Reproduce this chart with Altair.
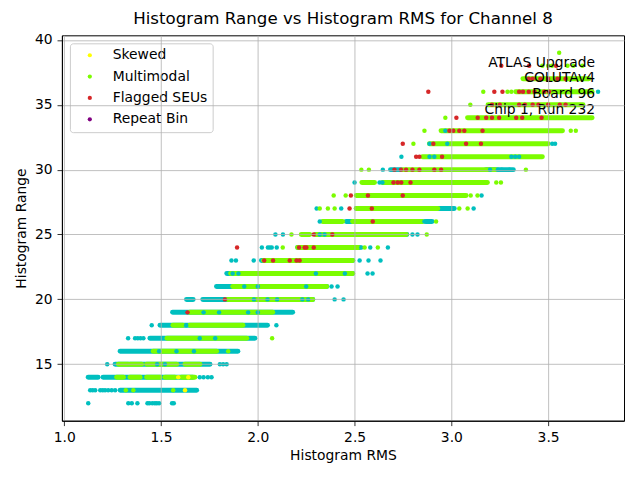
import altair as alt
import pandas as pd

# ---------------- data ----------------
CATEGORIES = ["Normal", "Skewed", "Multimodal", "Flagged SEUs", "Repeat Bin"]
CAT_COLORS = ["#00BFBF", "#FFFF00", "#7CFC00", "#D62728", "#800080"]
LEGEND_CATS = ["Skewed", "Multimodal", "Flagged SEUs", "Repeat Bin"]
RUN_CATS = ["Normal", "Multimodal"]
RUN_COLORS = ["#00BFBF", "#7CFC00"]

X_TICKS = [1.0, 1.5, 2.0, 2.5, 3.0, 3.5]
Y_TICKS = [15, 20, 25, 30, 35, 40]

ANNOTATION = ["ATLAS Upgrade", "COLUTAv4", "Board 96", "Chip 1, Run 232"]

# dense runs of points (Histogram Range -> list of (RMS start, RMS end))
normal_runs = {
    13: [(1.289, 1.684)],
    14: [(1.124, 1.175), (1.201, 1.665)],
    15: [(1.263, 1.753)],
    16: [(1.289, 1.897)],
    17: [(1.443, 1.985)],
    18: [(1.495, 2.050)],
    19: [(1.560, 2.180)],
    20: [(1.632, 1.666), (1.716, 2.284)],
    21: [(1.787, 2.356)],
    22: [(1.840, 2.490)],
    23: [(2.019, 2.491)],
    24: [(2.206, 2.526)],
    25: [(2.300, 2.770)],
    26: [(2.457, 2.491), (2.867, 2.900)],
    27: [(2.509, 2.560), (2.930, 3.015)],
    30: [(2.686, 2.740), (3.180, 3.320)],
}
multimodal_runs = {
    14: [(1.271, 1.306), (1.340, 1.392), (1.426, 1.495), (1.521, 1.572), (1.605, 1.675)],
    15: [(1.280, 1.331), (1.340, 1.400), (1.426, 1.581), (1.624, 1.701)],
    16: [(1.460, 1.787)],
    17: [(1.531, 1.943)],
    18: [(1.562, 1.613), (1.649, 1.923)],
    19: [(1.649, 2.077)],
    20: [(1.845, 2.284)],
    21: [(1.871, 2.356)],
    22: [(1.860, 2.490)],
    23: [(2.030, 2.490)],
    24: [(2.206, 2.520)],
    25: [(2.225, 2.268), (2.300, 2.767)],
    26: [(2.335, 2.438), (2.490, 2.852)],
    27: [(2.509, 2.930)],
    28: [(2.509, 3.076)],
    29: [(2.538, 2.603), (2.644, 3.186)],
    30: [(2.750, 3.230)],
    31: [(2.851, 3.470)],
    32: [(2.887, 3.500)],
    33: [(2.947, 3.574)],
    34: [(3.084, 3.727)],
    35: [(3.190, 3.680)],
    36: [(3.333, 3.727)],
    37: [(3.370, 3.710)],
}

# individual points (Histogram Range -> list of RMS values)
normal_points = {
    12: [1.124, 1.331, 1.349, 1.378, 1.430, 1.440, 1.455, 1.468, 1.478, 1.490, 1.557, 1.566],
    13: [1.134, 1.147, 1.160, 1.186, 1.199, 1.211, 1.227, 1.245, 1.263],
    14: [1.700, 1.720, 1.742, 1.761],
    15: [1.222, 1.480, 1.520, 1.804, 1.821, 1.839],
    16: [1.490, 1.580, 1.670],
    17: [1.330, 1.366, 1.380, 1.394, 1.409, 1.700, 1.780],
    18: [1.452, 1.630, 2.096],
    19: [1.720, 1.800, 1.950, 2.000],
    20: [1.980, 2.050, 2.100, 2.230, 2.260, 2.397, 2.443],
    21: [1.930, 2.000, 2.250, 2.381, 2.412],
    22: [1.870, 1.900, 2.300, 2.450, 2.567, 2.593],
    23: [1.864, 1.887, 1.979, 2.526, 2.572, 2.634],
    24: [2.021, 2.052, 2.062, 2.072, 2.098, 2.535, 2.581, 2.672],
    25: [2.091, 2.130, 2.320, 2.345, 2.799, 2.825],
    26: [2.320, 2.861, 2.887],
    27: [2.304, 2.431, 3.115],
    28: [3.156],
    29: [2.500, 2.629, 2.644],
    30: [2.646, 3.200, 3.240, 3.260, 3.300],
    31: [2.742, 2.887, 2.912, 3.310, 3.330, 3.350],
    32: [2.887, 2.979, 3.521, 3.536],
    33: [2.969],
    36: [3.758],
}
multimodal_points = {
    13: [1.318, 1.357, 1.563],
    16: [1.847],
    17: [2.074],
    24: [2.129, 2.552, 2.620],
    25: [2.174, 2.873],
    26: [2.921],
    27: [2.320, 2.362, 2.397, 3.041, 3.084],
    28: [2.392, 2.454, 3.100, 3.135],
    29: [3.232, 3.256],
    30: [2.535, 2.574, 3.385],
    32: [2.804],
    33: [2.861, 3.617, 3.643],
    34: [2.969],
    35: [3.098],
    36: [3.165, 3.290, 3.310],
    38: [3.470, 3.500, 3.520, 3.600, 3.630, 3.677],
    39: [3.557],
}
skewed_points = {
    13: [1.624],
    14: [1.589, 1.641],
}
flagged_points = {
    19: [1.637],
    20: [1.830],
    23: [2.033, 2.079, 2.165, 2.200, 2.216],
    24: [1.893, 2.213, 2.242, 2.251, 2.289],
    25: [2.289, 2.385],
    26: [2.594],
    27: [2.474, 2.589],
    28: [2.481, 2.569, 2.749],
    29: [2.701, 2.723, 2.741, 2.789],
    30: [2.706, 2.740, 2.766, 2.799, 2.835, 2.912, 2.947],
    31: [2.818, 2.835, 2.952],
    32: [2.749, 2.907, 3.076, 3.153],
    33: [2.990, 3.010, 3.041, 3.067, 3.161],
    34: [3.026, 3.136, 3.180, 3.210, 3.247, 3.335, 3.366, 3.466],
    35: [3.210, 3.250, 3.350, 3.380, 3.420, 3.450, 3.500, 3.560, 3.590],
    36: [2.881, 3.222, 3.264, 3.350, 3.370, 3.400, 3.430, 3.480, 3.505],
    37: [3.400, 3.420, 3.460, 3.500, 3.548, 3.590],
    38: [3.258, 3.402, 3.541],
}
repeat_points = {}

# ---------------- tables ----------------
run_rows = []
for cat, runs in [("Normal", normal_runs), ("Multimodal", multimodal_runs)]:
    for y, spans in runs.items():
        for a, b in spans:
            run_rows.append({"y": y, "x1": a, "x2": b, "run_cat": cat})
runs_df = pd.DataFrame(run_rows)

pt_rows = []
for cat, pts in [("Normal", normal_points), ("Multimodal", multimodal_points),
                 ("Skewed", skewed_points), ("Flagged SEUs", flagged_points),
                 ("Repeat Bin", repeat_points)]:
    for y, xs in pts.items():
        for x in xs:
            pt_rows.append({"y": y, "x": x, "cat": cat})
pts_df = pd.DataFrame(pt_rows)

ann_df = pd.DataFrame({"t": ["\n".join(ANNOTATION)]})

# ---------------- chart ----------------
FONT = "DejaVu Sans"
FS = 13.9

x_scale = alt.Scale(domain=[0.988, 3.892], nice=False, zero=False)
y_scale = alt.Scale(domain=[10.65, 40.35], nice=False, zero=False)
cat_scale = alt.Scale(domain=CATEGORIES, range=CAT_COLORS)
run_scale = alt.Scale(domain=RUN_CATS, range=RUN_COLORS)

common_axis = dict(
    grid=True, gridColor="#b0b0b0", gridWidth=0.8,
    domainColor="black", domainWidth=1, tickColor="black", tickSize=4.9, tickWidth=0.8,
    labelPadding=4.9, labelFontSize=FS, labelFont=FONT, labelColor="black",
    titleFontSize=FS, titleFont=FONT, titleFontWeight="normal", titleColor="black",
    zindex=1, labelFlush=False, labelOverlap=False,
)
x_axis = alt.Axis(values=X_TICKS, format=".1f", title="Histogram RMS", titlePadding=4, **common_axis)
y_axis = alt.Axis(values=Y_TICKS, format="d", title="Histogram Range", titlePadding=6, **common_axis)

runs_layer = alt.Chart(runs_df).mark_rule(strokeWidth=5, strokeCap="round").encode(
    x=alt.X("x1:Q", scale=x_scale, axis=x_axis),
    x2="x2:Q",
    y=alt.Y("y:Q", scale=y_scale, axis=y_axis),
    stroke=alt.Stroke("run_cat:N", scale=run_scale, legend=None),
)

pts_layer = alt.Chart(pts_df).mark_circle(size=20, opacity=1).encode(
    x=alt.X("x:Q", scale=x_scale),
    y=alt.Y("y:Q", scale=y_scale),
    color=alt.Color(
        "cat:N", scale=cat_scale,
        legend=alt.Legend(
            title=None, values=LEGEND_CATS, orient="none", legendX=8, legendY=8,
            symbolType="circle", symbolSize=18, symbolStrokeWidth=0,
            labelFont=FONT, labelFontSize=FS, labelColor="black",
            padding=5, symbolOffset=8, labelOffset=16, rowPadding=6.4,
            strokeColor="#cccccc", fillColor="rgba(255,255,255,0.8)", cornerRadius=3,
        ),
    ),
)

ann_layer = alt.Chart(ann_df).mark_text(
    align="right", baseline="alphabetic", lineBreak="\n", lineHeight=15.9,
    font=FONT, fontSize=FS, color="black",
).encode(x=alt.value(534), y=alt.value(31.3), text="t:N")

chart = alt.layer(runs_layer, pts_layer, ann_layer).resolve_legend(
    color="independent", stroke="independent"
).properties(
    width=563, height=386,
    title=alt.TitleParams(
        "Histogram Range vs Histogram RMS for Channel 8",
        font=FONT, fontSize=16.7, fontWeight="normal", color="black",
        anchor="middle", offset=5,
    ),
    autosize=alt.AutoSizeParams(type="none"),
    padding={"left": 54, "top": 27, "right": 8, "bottom": 50},
).configure_view(stroke="black", strokeWidth=1)

chart.save("out.html", embed_options={"renderer": "svg", "actions": False})
